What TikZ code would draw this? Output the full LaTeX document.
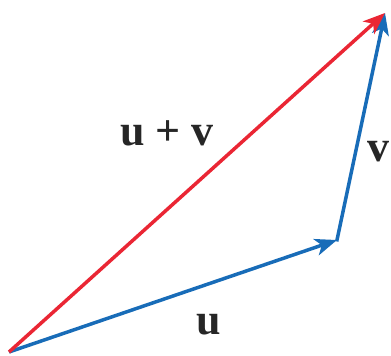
\documentclass[tikz,border=0pt]{standalone}
\usepackage{fontspec}
\setmainfont{Liberation Serif}
\usetikzlibrary{arrows.meta}
\definecolor{vred}{RGB}{234,38,52}
\definecolor{vblue}{RGB}{24,108,184}
\begin{document}
\begin{tikzpicture}[x=1pt,y=-1pt,
  vec/.style={line width=3.5pt,-{Stealth[length=22pt,width=17pt,inset=6pt]}},
  lbl/.style={font=\fontsize{44}{44}\selectfont\bfseries,inner sep=0pt,text=black!85}]
\useasboundingbox (0,0) rectangle (391,356);
\coordinate (o) at (9,352);
\coordinate (a) at (337,240);
\coordinate (b) at (385,13);
\draw[vec,vblue] (o) -- (a);
\draw[vec,vblue,shorten <=-1.5pt] (a) -- (b);
\draw[vec,vred] (o) -- (b);
\node[lbl] (luv) at (167,133) {u + v};
\node[lbl] (lv) at (378.5,152) {v};
\node[lbl] (lu) at (209,325) {u};
\end{tikzpicture}
\end{document}
